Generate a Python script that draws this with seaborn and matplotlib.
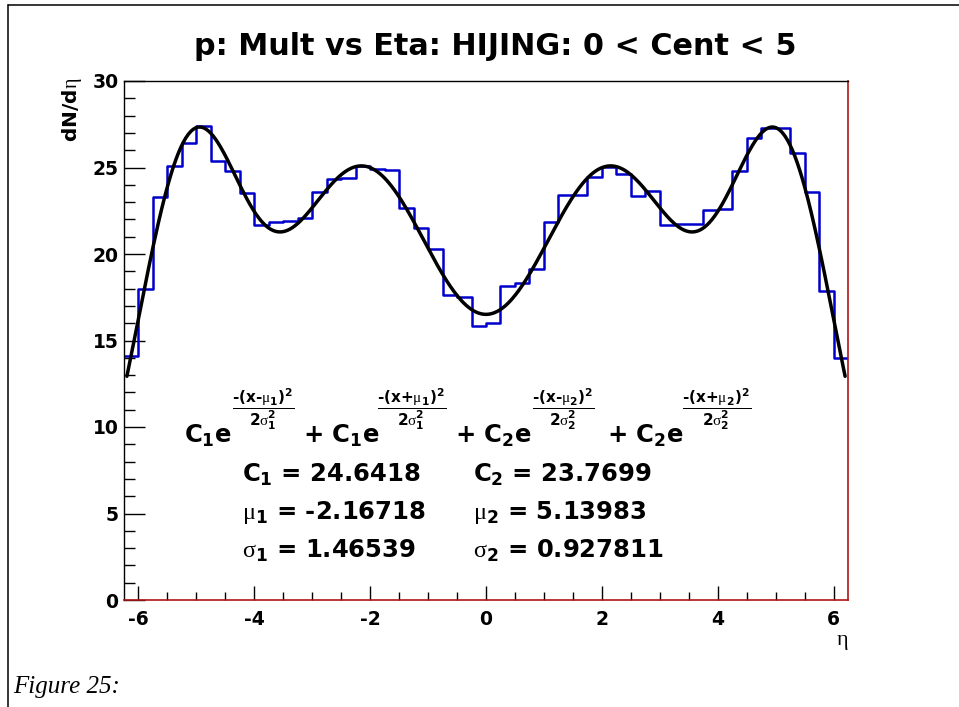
import numpy as np
import pandas as pd
import matplotlib
matplotlib.use("Agg")
import matplotlib.pyplot as plt
from matplotlib.lines import Line2D
from matplotlib.ticker import MultipleLocator
import seaborn as sns

# ---------------- data ----------------
eta_min, eta_max, n_bins = -6.25, 6.25, 50
bin_values = [14.1, 18.0, 23.3, 25.1, 26.4, 27.4, 25.4, 24.8, 23.5, 21.7,
              21.85, 21.9, 22.1, 23.6, 24.35, 24.4, 25.1, 24.9, 24.85, 22.65,
              21.5, 20.3, 17.65, 17.5, 15.85, 16.0, 18.15, 18.35, 19.15, 21.85,
              23.4, 23.4, 24.45, 25.05, 24.6, 23.35, 23.65, 21.65, 21.75, 21.75,
              22.55, 22.6, 24.8, 26.7, 27.3, 27.3, 25.85, 23.6, 17.85, 14.0]
# fit parameters as printed on the chart, and fit range
C1, mu1, sig1 = 24.6418, -2.16718, 1.46539
C2, mu2, sig2 = 23.7699, 5.13983, 0.927811
fit_min, fit_max = -6.2, 6.2
x_ticks = [-6, -4, -2, 0, 2, 4, 6]
y_ticks = [0, 5, 10, 15, 20, 25, 30]
title = "p: Mult vs Eta: HIJING: 0 < Cent < 5"

bin_edges = np.linspace(eta_min, eta_max, n_bins + 1)
centers = 0.5 * (bin_edges[:-1] + bin_edges[1:])
hist_df = pd.DataFrame({"eta": centers, "dndeta": bin_values})

xs = np.linspace(fit_min, fit_max, 600)
def g(x, c, m, s):
    return c * np.exp(-(x - m) ** 2 / (2 * s ** 2))
fit_df = pd.DataFrame({"eta": xs,
                       "f": g(xs, C1, mu1, sig1) + g(xs, C1, -mu1, sig1)
                            + g(xs, C2, mu2, sig2) + g(xs, C2, -mu2, sig2)})

# ---------------- style ----------------
sns.set_style("white")
plt.rcParams['font.family'] = ['DejaVu Sans']
plt.rcParams['text.color'] = 'black'
plt.rcParams['axes.labelcolor'] = 'black'
plt.rcParams['xtick.color'] = 'black'
plt.rcParams['ytick.color'] = 'black'
plt.rcParams['mathtext.fontset'] = 'custom'
plt.rcParams['mathtext.rm'] = 'DejaVu Sans:bold'
plt.rcParams['mathtext.it'] = 'DejaVu Sans:bold'
plt.rcParams['mathtext.bf'] = 'DejaVu Sans:bold'
plt.rcParams['mathtext.sf'] = 'Liberation Serif'

W, H = 959, 707
def fx(px): return px / W
def fy(py): return 1 - py / H

fig = plt.figure(figsize=(W / 100, H / 100), dpi=100)
fig.patch.set_facecolor('white')
ax = fig.add_axes([fx(124), fy(600), (848 - 124) / W, (600 - 81) / H])

sns.histplot(data=hist_df, x="eta", weights="dndeta", bins=n_bins,
             binrange=(eta_min, eta_max),
             element="step", fill=False, color="#0000cc", linewidth=1.8, ax=ax)
sns.lineplot(data=fit_df, x="eta", y="f", color="black", linewidth=2.5, ax=ax, zorder=5)

ax.set_xlim(eta_min, eta_max)
ax.set_ylim(0, 30)
ax.set_xlabel("")
ax.set_ylabel("")
ax.set_xticks(x_ticks)
ax.set_xticklabels([str(t) for t in x_ticks])
ax.set_yticks(y_ticks)
ax.set_yticklabels([str(t) for t in y_ticks])
ax.xaxis.set_minor_locator(MultipleLocator(0.5))
ax.yaxis.set_minor_locator(MultipleLocator(1))
ax.tick_params(axis='y', which='major', direction='in', length=15, width=1,
               labelsize=13.5, pad=4, color='black', labelcolor='black', left=True)
ax.tick_params(axis='y', which='minor', direction='in', length=8, width=1, left=True)
ax.tick_params(axis='x', which='major', direction='in', length=10, width=1,
               labelsize=13.5, pad=7, color='black', labelcolor='black', bottom=True)
ax.tick_params(axis='x', which='minor', direction='in', length=5.5, width=1, bottom=True)
for lab in ax.get_xticklabels() + ax.get_yticklabels():
    lab.set_fontweight('bold')

for side in ['top', 'left']:
    ax.spines[side].set_color('black')
    ax.spines[side].set_linewidth(1.0)
for side in ['right', 'bottom']:
    ax.spines[side].set_color('#b01515')
    ax.spines[side].set_linewidth(1.2)

# titles / labels
fig.text(fx(495), fy(55), title, ha='center', va='baseline',
         fontsize=21.8, fontweight='bold')
fig.text(fx(72), fy(78), r'dN/d$\mathsf{\eta}$', rotation=90, ha='center', va='top',
         fontsize=14.5, fontweight='bold')
fig.text(fx(848), fy(642), r'$\mathsf{\eta}$', ha='right', va='center', fontsize=16)

# fit formula
fs_main = 17.5
fs_frac = 11
hy = '\u2010'
mains = [(184, r'$C_1e$'), (303, r'$+\ C_1e$'), (455, r'$+\ C_2e$'), (607, r'$+\ C_2e$')]
for xpx, s in mains:
    fig.text(fx(xpx), fy(443), s, ha='left', va='baseline', fontsize=fs_main)
fracs = [(263, r'$\dfrac{%s(x%s\mathsf{\mu}_1)^2}{2\mathsf{\sigma}_1^2}$' % (hy, hy)),
         (412, r'$\dfrac{%s(x{+}\mathsf{\mu}_1)^2}{2\mathsf{\sigma}_1^2}$' % hy),
         (563, r'$\dfrac{%s(x%s\mathsf{\mu}_2)^2}{2\mathsf{\sigma}_2^2}$' % (hy, hy)),
         (717, r'$\dfrac{%s(x{+}\mathsf{\mu}_2)^2}{2\mathsf{\sigma}_2^2}$' % hy)]
for xpx, s in fracs:
    fig.text(fx(xpx), fy(409), s, ha='center', va='center', fontsize=fs_frac)

# parameter table
param_text = [r'$C_1$ = 24.6418', r'$C_2$ = 23.7699',
              r'$\mathsf{\mu}_1$ = -2.16718', r'$\mathsf{\mu}_2$ = 5.13983',
              r'$\mathsf{\sigma}_1$ = 1.46539', r'$\mathsf{\sigma}_2$ = 0.927811']
rows_y = [482, 482, 519, 519, 558, 558]
cols_x = [242, 473]
for i, (s, ypx) in enumerate(zip(param_text, rows_y)):
    fig.text(fx(cols_x[i % 2]), fy(ypx), s, ha='left', va='baseline',
             fontsize=fs_main, fontweight='bold')

# page frame and caption
fig.add_artist(Line2D([fx(8), fx(8)], [0, fy(5)], color='black', linewidth=1.1))
fig.add_artist(Line2D([fx(8), 1], [fy(5), fy(5)], color='black', linewidth=1.1))
fig.text(fx(13), fy(693), 'Figure 25:', ha='left', va='baseline', fontsize=18,
         family=['Liberation Serif'], style='italic')

fig.savefig('out.png', dpi=100)
